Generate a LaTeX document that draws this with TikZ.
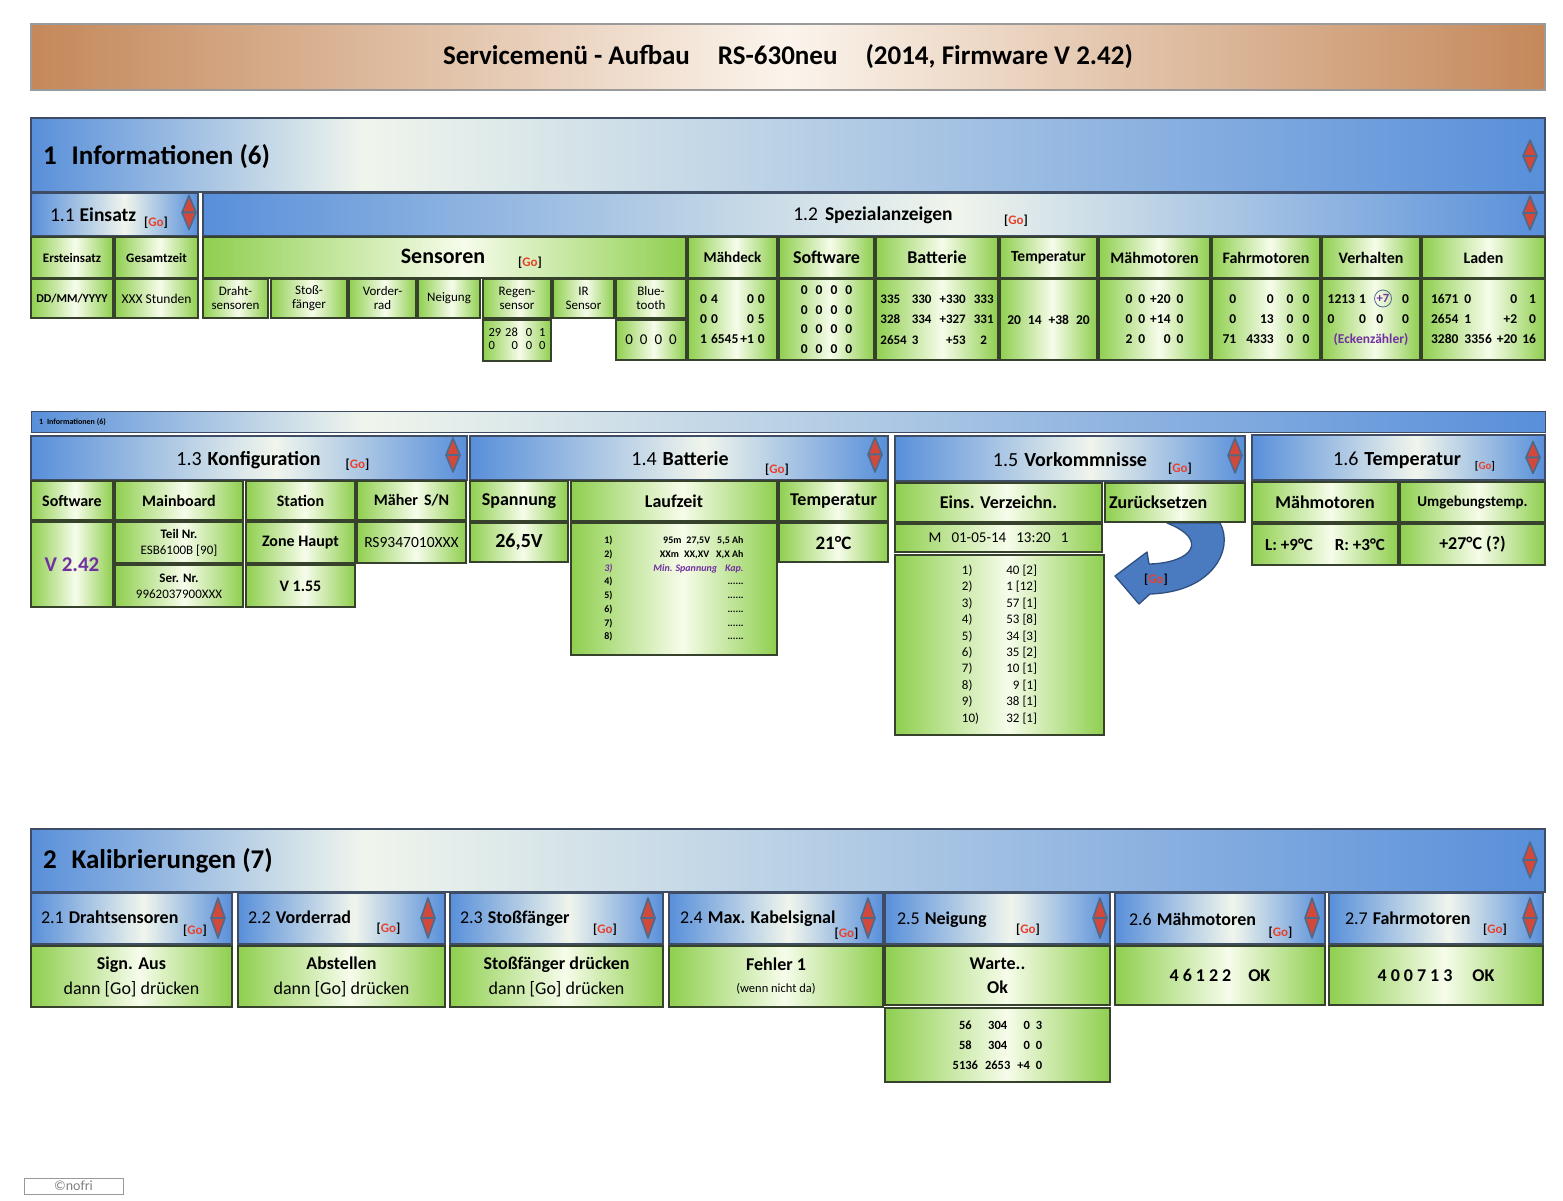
\documentclass[tikz,border=0pt]{standalone}
\usepackage{fontspec}
\setmainfont{Carlito}
\definecolor{gA}{HTML}{8FCF4F}
\definecolor{gB}{HTML}{F6FCEA}
\definecolor{bA}{HTML}{588FDA}
\definecolor{bB}{HTML}{F0F5EC}
\definecolor{cA}{HTML}{C4885A}
\definecolor{cB}{HTML}{FBF4EC}
\definecolor{gline}{HTML}{36422C}
\definecolor{bline}{HTML}{3E4D63}
\definecolor{cline}{HTML}{9A9A9A}
\definecolor{goRed}{HTML}{E8412C}
\definecolor{purp}{HTML}{7030A0}
\definecolor{arrRed}{HTML}{D2483A}
\definecolor{arrBlue}{HTML}{4C6A8C}
\definecolor{arrB}{HTML}{4A7ABF}
\definecolor{arrD}{HTML}{2E4F80}
\pgfdeclarehorizontalshading{gsh}{100bp}{color(0bp)=(gA); color(25bp)=(gA); color(52bp)=(gB); color(75bp)=(gA); color(100bp)=(gA)}
\pgfdeclarehorizontalshading{bsh}{100bp}{color(0bp)=(bA); color(25bp)=(bA); color(53bp)=(bB); color(75bp)=(bA); color(100bp)=(bA)}
\pgfdeclarehorizontalshading{bwide}{100bp}{color(0bp)=(bA); color(25bp)=(bA); color(36bp)=(bB); color(75bp)=(bA); color(100bp)=(bA)}
\pgfdeclarehorizontalshading{csh}{100bp}{color(0bp)=(cA); color(25bp)=(cA); color(50bp)=(cB); color(75bp)=(cA); color(100bp)=(cA)}
\newcommand\fs[2]{\fontsize{#1}{#2}\selectfont}
\newcommand\go{\textbf{[{\color{goRed}Go}]}}
\newcommand\bx[7]{\node[#1,anchor=north west,minimum width={(#4)-(#2)},minimum height={(#5)-(#3)}] (#6) at (#2,#3) {#7};}
\newcommand\updn[3]{\filldraw[updnarrow] (#1-7,#2) -- (#1,#2-#3) -- (#1+7,#2) -- cycle;
 \filldraw[updnarrow] (#1-7,#2) -- (#1,#2+#3) -- (#1+7,#2) -- cycle;}
\tikzset{
 nb/.style={align=center},
 gbox/.style={nb,draw=gline,line width=1.4pt,shading=gsh},
 bbox/.style={nb,draw=bline,line width=1.4pt,shading=bsh},
 bwbox/.style={nb,draw=bline,line width=1.4pt,shading=bwide},
 cbox/.style={nb,draw=cline,line width=1.6pt,shading=csh},
 updnarrow/.style={fill=arrRed,draw=arrBlue,line width=1.6pt,line join=round},
 hdrtxt/.style={anchor=base west},
 ctrtxt/.style={anchor=base},
 gotxt/.style={anchor=base,font=\fs{13}{15}},
}
\begin{document}
\begin{tikzpicture}[x=1pt,y=-1pt,every node/.style={inner sep=0pt,outer sep=0pt}]
\fill[white] (0,0) rectangle (1563,1200);
\useasboundingbox (0,0) rectangle (1563,1200);

% ---------- title ----------
\bx{cbox,font=\bfseries\fs{27}{30}}{31}{24}{1545}{90}{hdr}{Servicemenü - Aufbau\hspace{28pt}RS-630neu\hspace{28pt}(2014, Firmware V 2.42)}

% ---------- section 1 ----------
\bx{bwbox}{31}{118}{1545}{192}{sec1}{}
\node[hdrtxt,font=\bfseries\fs{27}{30}] (sec1t) at (43,164) {1\hspace{15pt}Informationen (6)};
\updn{1530}{156}{16}

\bx{bbox}{31}{193}{198}{236}{h11}{}
\node[hdrtxt,font=\fs{19.5}{22}] (h11t) at (50,221.5) {1.1\hspace{5pt}\textbf{Einsatz}};
\node[gotxt] (h11go) at (156,226) {\go};
\updn{189}{212.5}{17}

\bx{bbox}{203}{193}{1545}{236}{h12}{}
\node[ctrtxt,font=\fs{19.5}{22}] (h12t) at (873,220.5) {1.2\hspace{7pt}\textbf{Spezialanzeigen}};
\node[gotxt] (h12go) at (1016,224.5) {\go};
\updn{1530}{213}{17}

\bx{gbox,font=\bfseries\fs{13}{15}}{31}{237}{113}{278}{ers}{Ersteinsatz}
\bx{gbox,font=\bfseries\fs{13}{15}}{115}{237}{198}{278}{ges}{Gesamtzeit}
\bx{gbox}{203}{237}{686}{278}{sen}{}
\node[ctrtxt,font=\bfseries\fs{22}{24}] (sent) at (443,263.5) {Sensoren};
\node[gotxt] (sengo) at (530,266) {\go};
\bx{gbox,font=\bfseries\fs{15}{17}}{688}{237}{777}{278}{mdk}{Mähdeck}
\bx{gbox,font=\bfseries\fs{18}{20}}{779}{237}{874}{278}{sw}{Software}
\bx{gbox,font=\bfseries\fs{18}{20}}{876}{237}{998}{278}{bat}{Batterie}
\bx{gbox,font=\bfseries\fs{15.5}{18}}{1000}{237}{1097}{278}{tmp}{Temperatur}
\bx{gbox,font=\bfseries\fs{16}{18}}{1099}{237}{1210}{278}{mm}{Mähmotoren}
\bx{gbox,font=\bfseries\fs{16}{18}}{1212}{237}{1320}{278}{fm}{Fahrmotoren}
\bx{gbox,font=\bfseries\fs{16}{18}}{1322}{237}{1420}{278}{ver}{Verhalten}
\bx{gbox,font=\bfseries\fs{16}{18}}{1422}{237}{1545}{278}{lad}{Laden}

\bx{gbox,font=\bfseries\fs{12}{14}}{31}{279}{113}{318}{ersv}{DD/MM/YYYY}
\bx{gbox,font=\fs{13.5}{15}}{115}{279}{198}{318}{gesv}{XXX Stunden}
\bx{gbox,font=\fs{13}{14}}{203}{279}{268}{318}{sdr}{Draht-\\sensoren}
\bx{gbox,font=\fs{13}{14}}{271}{279}{347}{318}{sst}{Stoß-\\fänger}
\bx{gbox,font=\fs{13}{14}}{349}{279}{416}{318}{svr}{Vorder-\\rad}
\bx{gbox,font=\fs{13}{14}}{418}{279}{480}{318}{sne}{Neigung}
\bx{gbox,font=\fs{13}{14}}{483}{279}{551}{318}{sre}{Regen-\\sensor}
\bx{gbox,font=\fs{13}{14}}{553}{279}{614}{318}{sir}{IR\\Sensor}
\bx{gbox,font=\fs{13}{14}}{616}{279}{686}{318}{sbl}{Blue-\\tooth}
\bx{gbox,font=\fs{12.5}{13}}{483}{320}{551}{361}{srev}{\begin{tabular}{@{}l@{\hspace{4pt}}r@{\hspace{8pt}}c@{\hspace{7pt}}c@{}}29&28&0&1\\0&0&0&0\end{tabular}}
\bx{gbox,font=\fs{15}{17}}{616}{320}{686}{360}{sblv}{0\hspace{7pt}0\hspace{7pt}0\hspace{7pt}0}

\bx{gbox,font=\bfseries\fs{13.5}{20}}{688}{279}{777}{360}{mdkv}{\begin{tabular}{@{}l@{\hspace{4pt}}l@{\hspace{2pt}}r@{\hspace{4pt}}r@{}}0&4&0&0\\0&0&0&5\\1&6545&+1&0\end{tabular}}
\bx{gbox,font=\bfseries\fs{13.5}{19.5}}{779}{279}{874}{360}{swv}{0\hspace{8pt}0\hspace{8pt}0\hspace{8pt}0\\0\hspace{8pt}0\hspace{8pt}0\hspace{8pt}0\\0\hspace{8pt}0\hspace{8pt}0\hspace{8pt}0\\0\hspace{8pt}0\hspace{8pt}0\hspace{8pt}0}
\bx{gbox,font=\bfseries\fs{13}{20.5}}{876}{279}{998}{360}{batv}{\begin{tabular}{@{}l@{\hspace{5pt}}l@{\hspace{8pt}}r@{\hspace{8pt}}c@{}}335&330&+330&333\\328&334&+327&331\\2654&3&+53&2\end{tabular}}
\bx{gbox,font=\bfseries\fs{13.5}{16}}{1000}{279}{1097}{360}{tmpv}{20\hspace{7pt}14\hspace{7pt}+38\hspace{7pt}20}
\bx{gbox,font=\bfseries\fs{13.5}{20}}{1099}{279}{1210}{360}{mmv}{\begin{tabular}{@{}c@{\hspace{6pt}}c@{\hspace{5pt}}r@{\hspace{6pt}}c@{}}0&0&+20&0\\0&0&+14&0\\2&0&0&0\end{tabular}}
\bx{gbox,font=\bfseries\fs{13.5}{20}}{1212}{279}{1320}{360}{fmv}{\begin{tabular}{@{}r@{\hspace{10pt}}r@{\hspace{13pt}}c@{\hspace{9pt}}c@{}}0&0&0&0\\0&13&0&0\\71&4333&0&0\end{tabular}}
\bx{gbox,font=\bfseries\fs{13.5}{20}}{1322}{279}{1420}{360}{verv}{\begin{tabular}{@{}l@{\hspace{4pt}}c@{\hspace{3pt}}c@{\hspace{6pt}}c@{}}1213&1&\phantom{(+7)}&0\\0&0&0&0\\\multicolumn{4}{c}{\color{purp}(Eckenzähler)}\end{tabular}}
\node[circle,draw=arrBlue,line width=0.8pt,minimum size=17pt,text=purp,font=\bfseries\fs{12.5}{14}] (plus7) at (1383,298.5) {+7};
\bx{gbox,font=\bfseries\fs{13.5}{20}}{1422}{279}{1545}{360}{ladv}{\begin{tabular}{@{}l@{\hspace{6pt}}l@{\hspace{5pt}}r@{\hspace{5pt}}r@{}}1671&0&0&1\\2654&1&+2&0\\3280&3356&+20&16\end{tabular}}

% ---------- section 1 (part 2) ----------
\bx{bwbox,line width=1pt}{31}{411}{1545}{432}{sec1b}{}
\node[hdrtxt,font=\bfseries\fs{8}{9}] (sec1bt) at (39,424.5) {1\hspace{4pt}Informationen (6)};

% 1.3
\bx{bbox}{31}{436}{467}{480}{h13}{}
\node[ctrtxt,font=\fs{20}{22}] (h13t) at (248.5,465) {1.3\hspace{6pt}\textbf{Konfiguration}};
\node[gotxt] (h13go) at (357.5,468) {\go};
\updn{453}{455}{17}
\bx{gbox,font=\bfseries\fs{16}{18}}{31}{481}{113}{520}{ksw}{Software}
\bx{gbox,font=\bfseries\fs{16}{18}}{115}{481}{243}{520}{kmb}{Mainboard}
\bx{gbox,font=\bfseries\fs{16}{18}}{246}{481}{355}{520}{kst}{Station}
\bx{gbox,font=\bfseries\fs{16}{18}}{357}{481}{466}{520}{kma}{Mäher\hspace{6pt}S/N}
\bx{gbox,font=\bfseries\fs{21}{24}}{31}{522}{113}{607}{kswv}{\color{purp}V 2.42}
\bx{gbox,font=\fs{13}{16}}{115}{522}{243}{563}{ktn}{\textbf{Teil Nr.}\\ESB6100B [90]}
\bx{gbox,font=\fs{13}{16}}{115}{565}{243}{607}{ksn}{\textbf{Ser. Nr.}\\9962037900XXX}
\bx{gbox,font=\bfseries\fs{16}{18}}{246}{522}{355}{563}{kzh}{Zone Haupt}
\bx{gbox,font=\bfseries\fs{16}{18}}{246}{565}{355}{607}{kv}{V 1.55}
\bx{gbox,font=\fs{15.5}{18}}{357}{522}{466}{563}{krs}{RS9347010XXX}

% 1.4
\bx{bbox}{470}{436}{888}{480}{h14}{}
\node[ctrtxt,font=\fs{20}{22}] (h14t) at (680,465) {1.4\hspace{6pt}\textbf{Batterie}};
\node[gotxt] (h14go) at (777,473) {\go};
\updn{875}{454.5}{17.5}
\bx{gbox,font=\bfseries\fs{18}{20}}{470}{481}{568}{521}{bsp}{Spannung}
\bx{gbox,font=\bfseries\fs{18}{20}}{571}{481}{777}{521}{blz}{Laufzeit}
\bx{gbox,font=\bfseries\fs{18}{20}}{779}{481}{888}{521}{btp}{Temperatur}
\bx{gbox,font=\bfseries\fs{20}{22}}{470}{523}{568}{562}{bspv}{26,5V}
\bx{gbox,font=\bfseries\fs{10}{13.7}}{571}{523}{777}{655}{blzv}{\begin{tabular}{@{}l@{}r@{}}1)&\makebox[131pt][r]{95m\hspace{5pt}27,5V\hspace{7pt}5,5 Ah}\\2)&\makebox[131pt][r]{XXm\hspace{5pt}XX,XV\hspace{7pt}X,X Ah}\\{\color{purp}\itshape 3)}&\makebox[131pt][r]{\color{purp}\itshape Min. Spannung\hspace{8pt}Kap.}\\4)&......\\5)&......\\6)&......\\7)&......\\8)&......\end{tabular}}
\bx{gbox,font=\bfseries\fs{19}{21}}{779}{523}{888}{562}{btpv}{21°C}

% 1.5
\filldraw[fill=arrB,draw=arrD,line width=1.3pt,line join=round] (1167,523) -- (1220,523) .. controls (1234,548) and (1214,592) .. (1150,594) -- (1139,604) -- (1115,576) -- (1147,552) -- (1149,564) .. controls (1192,563) and (1210,540) .. (1167,523) -- cycle;
\node[gotxt] (arrgo) at (1156,583) {\go};
\bx{bbox}{895}{436}{1245}{481}{h15}{}
\node[ctrtxt,font=\fs{20}{22}] (h15t) at (1070,466) {1.5\hspace{6pt}\textbf{Vorkommnisse}};
\node[gotxt] (h15go) at (1180,472.5) {\go};
\updn{1235}{455.5}{17.5}
\bx{gbox,font=\bfseries\fs{18}{20}}{895}{483}{1102}{522}{vez}{Eins. Verzeichn.}
\bx{gbox,font=\bfseries\fs{18}{20},text width=132pt,align=left}{1105}{483}{1245}{522}{vzu}{Zurücksetzen}
\bx{gbox,font=\fs{15}{17}}{895}{524}{1102}{552}{vm}{M\hspace{10pt}01-05-14\hspace{10pt}13:20\hspace{10pt}1}
\bx{gbox,font=\fs{13}{16.4}}{895}{555}{1104}{735}{vlist}{\begin{tabular}{@{}l@{}r@{}}1)&\makebox[58pt][r]{40 [2]}\\2)&\makebox[58pt][r]{1 [12]}\\3)&\makebox[58pt][r]{57 [1]}\\4)&\makebox[58pt][r]{53 [8]}\\5)&\makebox[58pt][r]{34 [3]}\\6)&\makebox[58pt][r]{35 [2]}\\7)&\makebox[58pt][r]{10 [1]}\\8)&\makebox[58pt][r]{9 [1]}\\9)&\makebox[58pt][r]{38 [1]}\\10)&\makebox[58pt][r]{32 [1]}\end{tabular}}

% 1.6
\bx{bbox}{1252}{435}{1545}{480}{h16}{}
\node[ctrtxt,font=\fs{20}{22}] (h16t) at (1397,465) {1.6\hspace{6pt}\textbf{Temperatur}};
\node[anchor=base,font=\fs{11}{13}] (h16go) at (1485,469) {\go};
\updn{1533}{457.5}{16}
\bx{gbox,font=\bfseries\fs{18}{20}}{1252}{482}{1398}{522}{tmm}{Mähmotoren}
\bx{gbox,font=\bfseries\fs{15}{17}}{1400}{482}{1545}{522}{tum}{Umgebungstemp.}
\bx{gbox,font=\bfseries\fs{17}{19}}{1252}{524}{1398}{565}{tmmv}{L: +9°C\hspace{22pt}R: +3°C}
\bx{gbox,font=\bfseries\fs{18}{20}}{1400}{524}{1545}{565}{tumv}{+27°C (?)}

% ---------- section 2 ----------
\bx{bwbox}{31}{829}{1545}{892}{sec2}{}
\node[hdrtxt,font=\bfseries\fs{27}{30}] (sec2t) at (43,868.5) {2\hspace{15pt}Kalibrierungen (7)};
\updn{1530}{860}{18}

\bx{bbox}{31}{893}{232}{944}{h21}{}
\node[hdrtxt,font=\fs{18}{20}] (h21t) at (41,923) {2.1\hspace{5pt}\textbf{Drahtsensoren}};
\node[gotxt] (h21go) at (195,934) {\go};
\updn{218}{918}{20}
\bx{bbox}{238}{893}{445}{944}{h22}{}
\node[hdrtxt,font=\fs{18}{20}] (h22t) at (248,923) {2.2\hspace{5pt}\textbf{Vorderrad}};
\node[gotxt] (h22go) at (388.5,932.5) {\go};
\updn{428}{918}{20}
\bx{bbox}{450}{893}{663}{944}{h23}{}
\node[hdrtxt,font=\fs{18}{20}] (h23t) at (460,923) {2.3\hspace{5pt}\textbf{Stoßfänger}};
\node[gotxt] (h23go) at (605,933) {\go};
\updn{648}{918}{20}
\bx{bbox}{669}{893}{883}{944}{h24}{}
\node[hdrtxt,font=\fs{18}{20}] (h24t) at (680,923) {2.4\hspace{5pt}\textbf{Max. Kabelsignal}};
\node[gotxt] (h24go) at (846.5,937) {\go};
\updn{868}{918}{20}
\bx{bbox}{885}{893}{1110}{944}{h25}{}
\node[hdrtxt,font=\fs{18}{20}] (h25t) at (897,924) {2.5\hspace{5pt}\textbf{Neigung}};
\node[gotxt] (h25go) at (1028,933) {\go};
\updn{1100}{918}{20}
\bx{bbox}{1115}{893}{1325}{944}{h26}{}
\node[hdrtxt,font=\fs{18}{20}] (h26t) at (1129,925) {2.6\hspace{5pt}\textbf{Mähmotoren}};
\node[gotxt] (h26go) at (1280.5,936) {\go};
\updn{1312}{918}{20}
\bx{bbox}{1329}{893}{1543}{944}{h27}{}
\node[hdrtxt,font=\fs{18}{20}] (h27t) at (1345,924) {2.7\hspace{5pt}\textbf{Fahrmotoren}};
\node[gotxt] (h27go) at (1495,933) {\go};
\updn{1530}{918}{20}

\bx{gbox,font=\fs{18}{25}}{31}{946}{232}{1007}{v21}{\textbf{Sign. Aus}\\dann [Go] drücken}
\bx{gbox,font=\fs{18}{25}}{238}{946}{445}{1007}{v22}{\textbf{Abstellen}\\dann [Go] drücken}
\bx{gbox,font=\fs{18}{25}}{450}{946}{663}{1007}{v23}{\textbf{Stoßfänger drücken}\\dann [Go] drücken}
\bx{gbox,font=\fs{18}{22}}{669}{946}{883}{1007}{v24}{\textbf{Fehler 1}\\{\fs{12.5}{14}(wenn nicht da)}}
\bx{gbox,font=\bfseries\fs{18}{24}}{885}{946}{1110}{1005}{v25}{Warte..\\Ok}
\bx{gbox,font=\bfseries\fs{12.5}{20}}{885}{1008}{1110}{1082}{v25b}{\begin{tabular}{@{}c@{\hspace{7pt}}c@{\hspace{7pt}}r@{\hspace{6pt}}c@{}}56&304&0&3\\58&304&0&0\\5136&2653&+4&0\end{tabular}}
\bx{gbox,font=\bfseries\fs{18}{20}}{1115}{946}{1325}{1005}{v26}{4\hspace{4pt}6\hspace{4pt}1\hspace{4pt}2\hspace{4pt}2\hspace{17pt}OK}
\bx{gbox,font=\bfseries\fs{18}{20}}{1329}{946}{1543}{1005}{v27}{4\hspace{4pt}0\hspace{4pt}0\hspace{4pt}7\hspace{4pt}1\hspace{4pt}3\hspace{20pt}OK}

% ---------- copyright ----------
\bx{nb,draw=gray!80,line width=1pt,text=gray,font=\fs{14}{16}}{24}{1178}{123}{1194}{copy}{©nofri}
\end{tikzpicture}
\end{document}
